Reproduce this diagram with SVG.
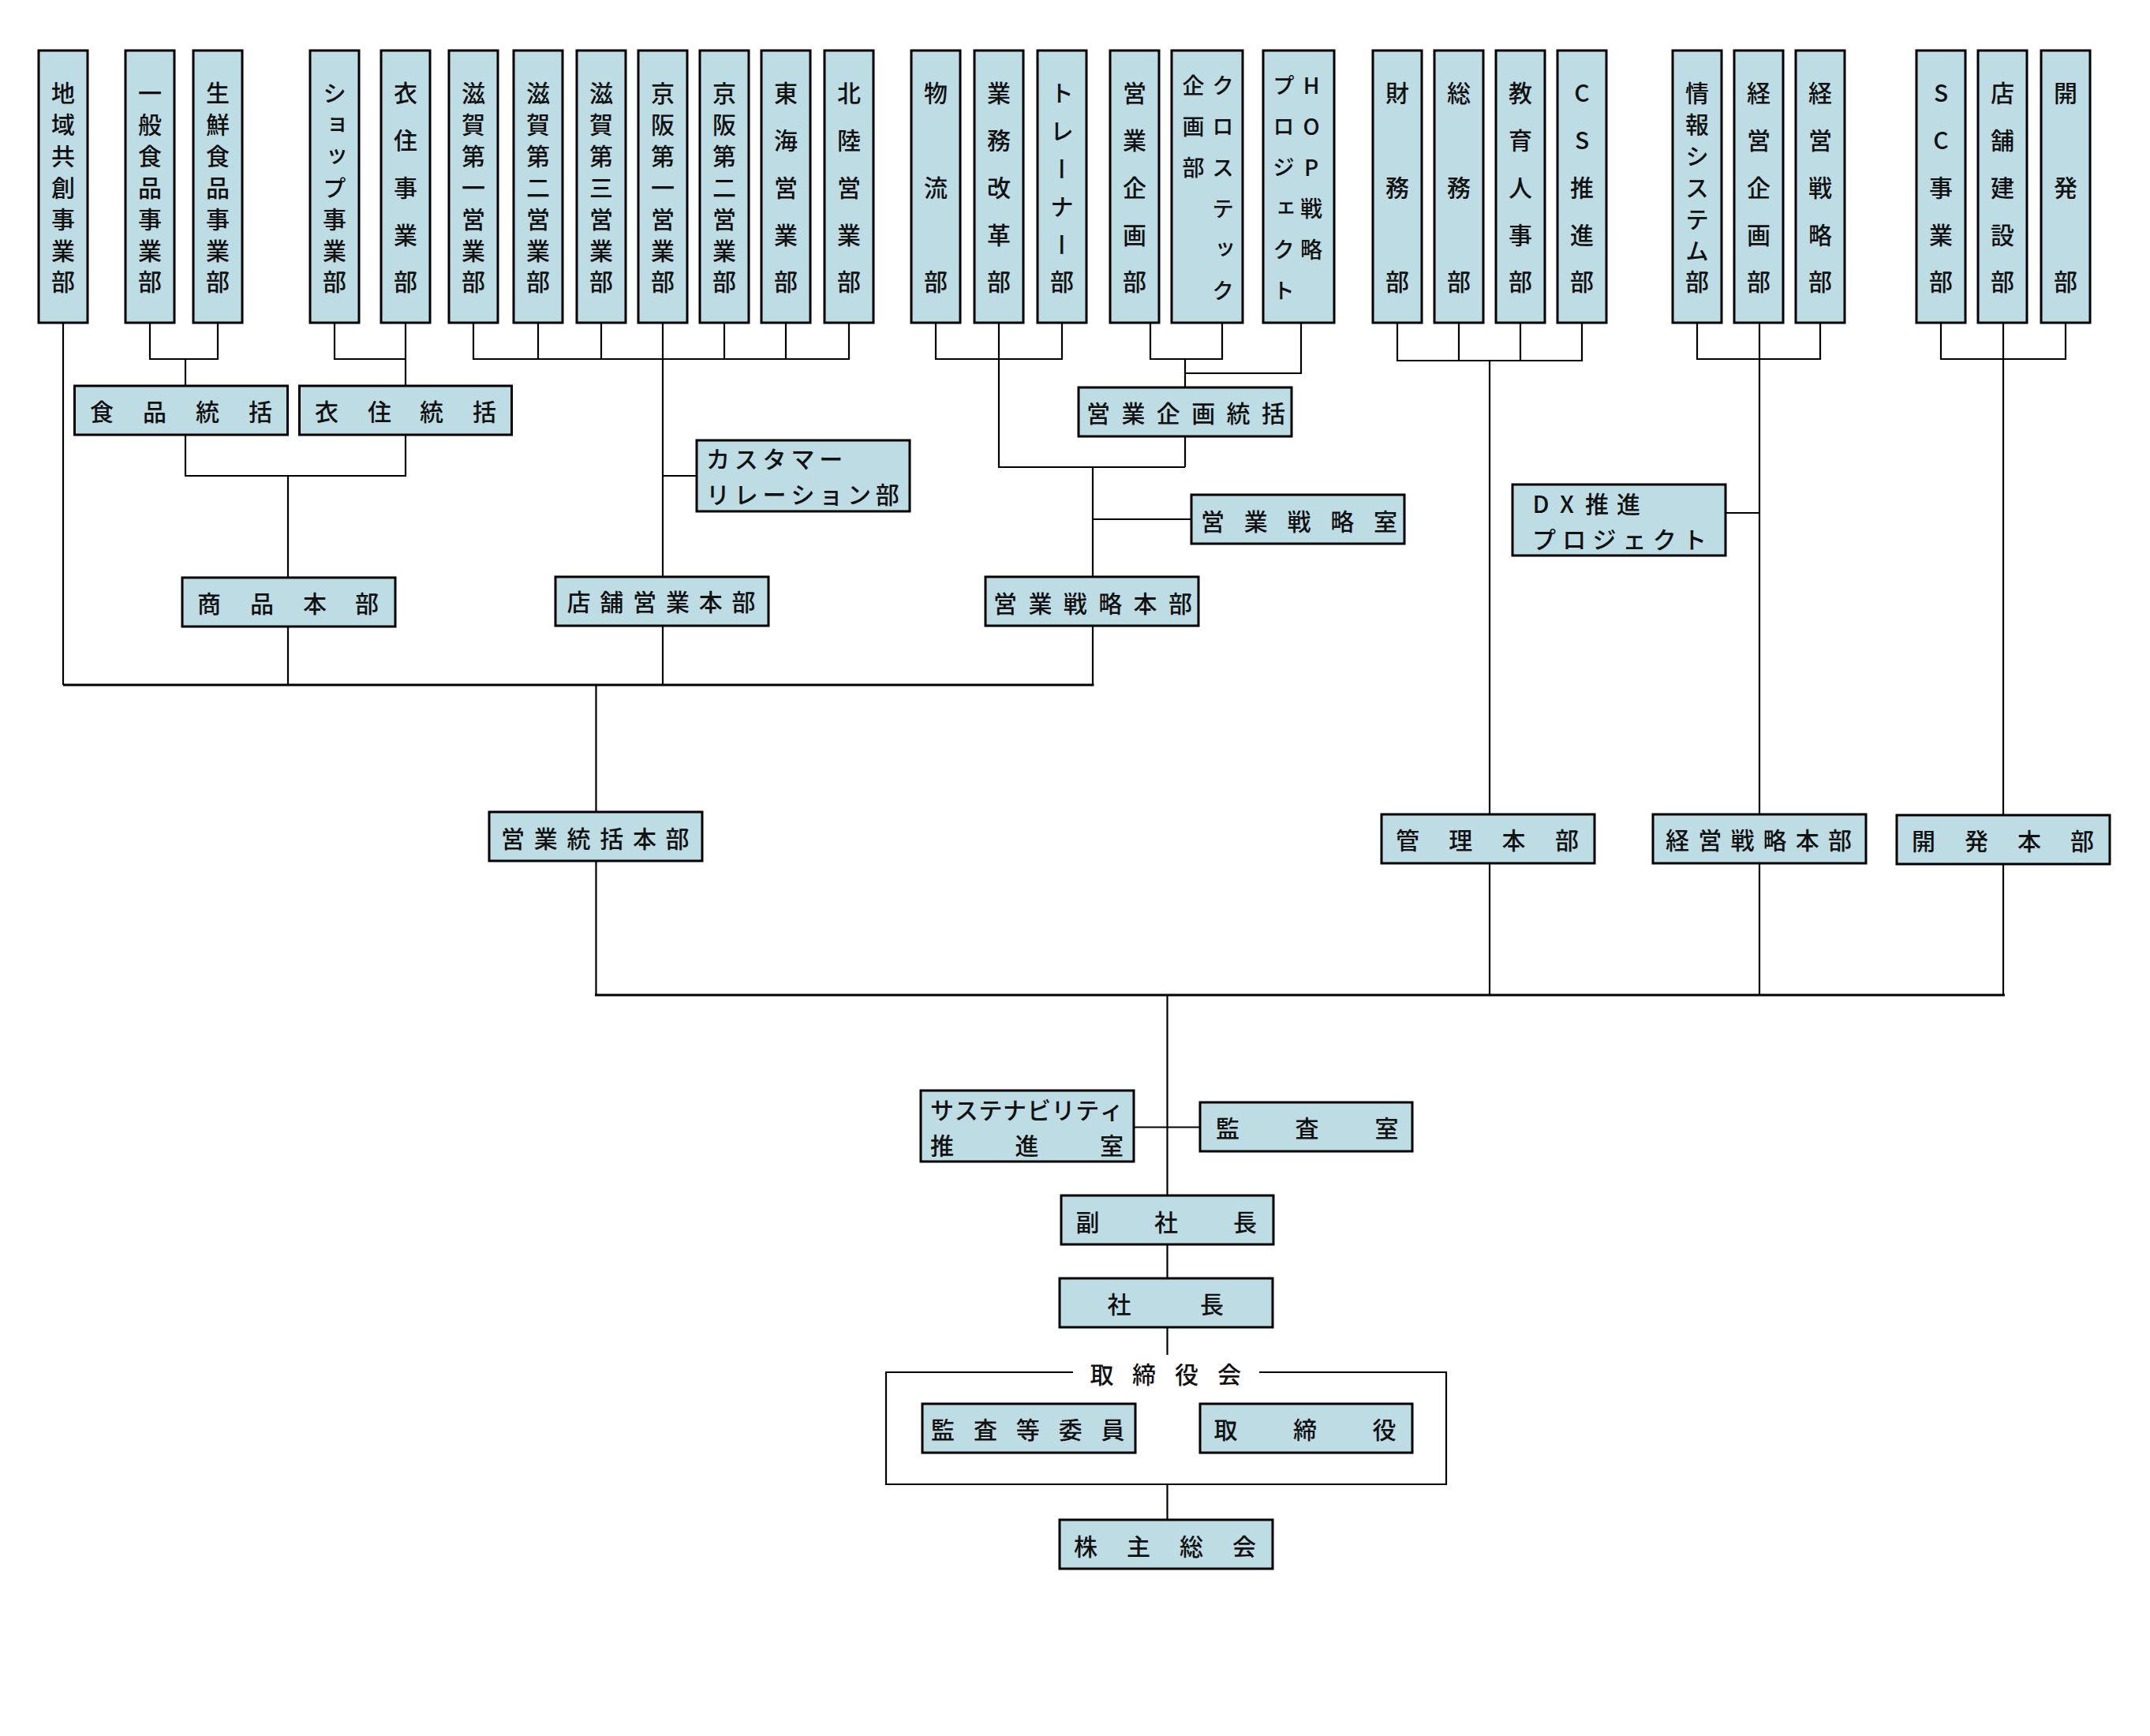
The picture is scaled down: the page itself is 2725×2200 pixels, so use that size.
<svg xmlns="http://www.w3.org/2000/svg" width="2725" height="2200" viewBox="0 0 2725 2200">
<style>
.b{fill:#bedce4;stroke:#000;stroke-width:3}
.l{fill:none;stroke:#000;stroke-width:2.2}
.lb{fill:none;stroke:#000;stroke-width:3}
text{font-family:"Noto Sans CJK JP","Noto Sans CJK SC",sans-serif;font-size:30px;font-weight:500;fill:#111;text-anchor:middle;dominant-baseline:central}
.v{writing-mode:vertical-rl;text-orientation:upright}
.s{font-size:28px}
</style>
<rect width="2725" height="2200" fill="#fff"/>
<g id="connectors">
<path class="l" d="M80 409V868"/>
<path class="l" d="M190 409V455H276V409M235 455V489"/>
<path class="l" d="M424 409V455H514M514 409V489"/>
<path class="l" d="M235 551V603H514V551M365 603V732M365 794V868"/>
<path class="l" d="M600 409V455H1076V409M682 409V455M762 409V455M918 409V455M996 409V455M840 409V731M840 603H883M840 793V868"/>
<path class="l" d="M1186 409V455H1346V409M1266 409V592H1502"/>
<path class="l" d="M1458 409V455H1549V409M1502 455V491M1649 409V473H1502"/>
<path class="l" d="M1502 553V592M1385 592V731M1385 658H1510M1385 793V868"/>
<path class="lb" d="M80 868H1386.5"/>
<path class="l" d="M755.5 868V1029M755.5 1091V1261"/>
<path class="lb" d="M754 1261H2541"/>
<path class="l" d="M1771 409V457H2005V409M1849 409V457M1927 409V457M1888 457V1032M1888 1094V1261"/>
<path class="l" d="M2151 409V455H2307V409M2230 409V1032M2187 650H2230M2230 1094V1261"/>
<path class="l" d="M2460 409V455H2618V409M2539 409V1033M2539 1095V1261"/>
<path class="l" d="M1479.5 1261V1515M1437 1428.5H1521M1479.5 1577V1620M1479.5 1682V1717"/>
<path class="l" d="M1360 1739H1123V1881H1833V1739H1596M1479.5 1881V1926"/>
</g>
<g id="n1"><rect class="b" x="49" y="64" width="62" height="345"/><text class="v" x="80" y="118 157.8 197.7 237.5 277.3 317.2 357">地域共創事業部</text></g>
<g id="n2"><rect class="b" x="159" y="64" width="62" height="345"/><text class="v" x="190" y="118 157.8 197.7 237.5 277.3 317.2 357">一般食品事業部</text></g>
<g id="n3"><rect class="b" x="245" y="64" width="62" height="345"/><text class="v" x="276" y="118 157.8 197.7 237.5 277.3 317.2 357">生鮮食品事業部</text></g>
<g id="n4"><rect class="b" x="393" y="64" width="62" height="345"/><text class="v" x="424" y="118 157.8 197.7 237.5 277.3 317.2 357">ショップ事業部</text></g>
<g id="n5"><rect class="b" x="483" y="64" width="62" height="345"/><text class="v" x="514" y="118 177.75 237.5 297.25 357">衣住事業部</text></g>
<g id="n6"><rect class="b" x="569" y="64" width="62" height="345"/><text class="v" x="600" y="118 157.8 197.7 237.5 277.3 317.2 357">滋賀第一営業部</text></g>
<g id="n7"><rect class="b" x="651" y="64" width="62" height="345"/><text class="v" x="682" y="118 157.8 197.7 237.5 277.3 317.2 357">滋賀第二営業部</text></g>
<g id="n8"><rect class="b" x="731" y="64" width="62" height="345"/><text class="v" x="762" y="118 157.8 197.7 237.5 277.3 317.2 357">滋賀第三営業部</text></g>
<g id="n9"><rect class="b" x="809" y="64" width="62" height="345"/><text class="v" x="840" y="118 157.8 197.7 237.5 277.3 317.2 357">京阪第一営業部</text></g>
<g id="n10"><rect class="b" x="887" y="64" width="62" height="345"/><text class="v" x="918" y="118 157.8 197.7 237.5 277.3 317.2 357">京阪第二営業部</text></g>
<g id="n11"><rect class="b" x="965" y="64" width="62" height="345"/><text class="v" x="996" y="118 177.75 237.5 297.25 357">東海営業部</text></g>
<g id="n12"><rect class="b" x="1045" y="64" width="62" height="345"/><text class="v" x="1076" y="118 177.75 237.5 297.25 357">北陸営業部</text></g>
<g id="n13"><rect class="b" x="1155" y="64" width="62" height="345"/><text class="v" x="1186" y="118 237.5 357">物流部</text></g>
<g id="n14"><rect class="b" x="1235" y="64" width="62" height="345"/><text class="v" x="1266" y="118 177.75 237.5 297.25 357">業務改革部</text></g>
<g id="n15"><rect class="b" x="1315" y="64" width="62" height="345"/><text class="v" x="1346" y="118 165.8 213.6 261.4 309.2 357">トレーナー部</text></g>
<g id="n16"><rect class="b" x="1407" y="64" width="62" height="345"/><text class="v" x="1438" y="118 177.75 237.5 297.25 357">営業企画部</text></g>
<g id="n17"><rect class="b" x="1485" y="64" width="90" height="345"/><text class="v s" x="1550" y="108 160 212 264 316 368">クロステック</text><text class="v s" x="1512.5" y="108 160 212">企画部</text></g>
<g id="n18"><rect class="b" x="1601" y="64" width="90" height="345"/><text class="v s" x="1662" y="108 160 212 264 316">HOP戦略</text><text class="v s" x="1627" y="108 160 212 264 316 368">プロジェクト</text></g>
<g id="n19"><rect class="b" x="1740" y="64" width="62" height="345"/><text class="v" x="1771" y="118 237.5 357">財務部</text></g>
<g id="n20"><rect class="b" x="1818" y="64" width="62" height="345"/><text class="v" x="1849" y="118 237.5 357">総務部</text></g>
<g id="n21"><rect class="b" x="1896" y="64" width="62" height="345"/><text class="v" x="1927" y="118 177.75 237.5 297.25 357">教育人事部</text></g>
<g id="n22"><rect class="b" x="1974" y="64" width="62" height="345"/><text class="v" x="2005" y="118 177.75 237.5 297.25 357">CS推進部</text></g>
<g id="n23"><rect class="b" x="2120" y="64" width="62" height="345"/><text class="v" x="2151" y="118 157.8 197.7 237.5 277.3 317.2 357">情報システム部</text></g>
<g id="n24"><rect class="b" x="2198" y="64" width="62" height="345"/><text class="v" x="2229" y="118 177.75 237.5 297.25 357">経営企画部</text></g>
<g id="n25"><rect class="b" x="2276" y="64" width="62" height="345"/><text class="v" x="2307" y="118 177.75 237.5 297.25 357">経営戦略部</text></g>
<g id="n26"><rect class="b" x="2429" y="64" width="62" height="345"/><text class="v" x="2460" y="118 177.75 237.5 297.25 357">SC事業部</text></g>
<g id="n27"><rect class="b" x="2507" y="64" width="62" height="345"/><text class="v" x="2538" y="118 177.75 237.5 297.25 357">店舗建設部</text></g>
<g id="n28"><rect class="b" x="2587" y="64" width="62" height="345"/><text class="v" x="2618" y="118 237.5 357">開発部</text></g>
<g id="shokuhin"><rect class="b" x="94.5" y="489" width="270" height="62"/><text x="129 196 263 330" y="520">食品統括</text></g>
<g id="iju"><rect class="b" x="379.5" y="489" width="269" height="62"/><text x="414 481 547 614" y="520">衣住統括</text></g>
<g id="shohin"><rect class="b" x="231" y="732" width="270" height="62"/><text x="265 332 399 465" y="763">商品本部</text></g>
<g id="tenpo"><rect class="b" x="704" y="731" width="270" height="62"/><text x="733.5 775.3 817.1 858.9 900.7 942.5" y="761">店舗営業本部</text></g>
<g id="customer"><rect class="b" x="883" y="558" width="270" height="90"/><text><tspan x="910 945.8 981.6 1017.4 1053.2" y="580">カスタマー</tspan><tspan x="910 945.8 981.6 1017.4 1053.2 1089 1124.8" y="625">リレーション部</tspan></text></g>
<g id="eigyokikaku"><rect class="b" x="1367" y="491" width="270" height="62"/><text x="1392 1436.4 1480.8 1525.2 1569.6 1614" y="522">営業企画統括</text></g>
<g id="senryakushitsu"><rect class="b" x="1510" y="627" width="270" height="62"/><text x="1537 1591.75 1646.5 1701.25 1756" y="659">営業戦略室</text></g>
<g id="senryakuhonbu"><rect class="b" x="1249" y="731" width="270" height="62"/><text x="1274 1318.4 1362.8 1407.2 1451.6 1496" y="762.5">営業戦略本部</text></g>
<g id="tokatsu"><rect class="b" x="620" y="1029" width="270" height="62"/><text x="650 691.7 733.4 775.2 816.9 858.6" y="1060.5">営業統括本部</text></g>
<g id="kanri"><rect class="b" x="1751" y="1032" width="270" height="62"/><text x="1784 1851.3 1918.6 1986" y="1063.3">管理本部</text></g>
<g id="keiei"><rect class="b" x="2095" y="1032" width="270" height="62"/><text x="2126 2167.2 2208.4 2249.6 2290.8 2332" y="1063">経営戦略本部</text></g>
<g id="kaihatsu"><rect class="b" x="2404" y="1033" width="270" height="62"/><text x="2438 2505 2572 2639" y="1064">開発本部</text></g>
<g id="dx"><rect class="b" x="1917" y="614" width="270" height="90"/><text><tspan x="1953 1986 2024 2064" y="637">DX推進</tspan><tspan x="1957 1995.2 2033.4 2071.6 2109.8 2148" y="681.5">プロジェクト</tspan></text></g>
<g id="sustain"><rect class="b" x="1167" y="1382" width="270" height="90"/><text><tspan x="1194 1224.7 1255.4 1286.1 1316.9 1347.6 1378.3 1409" y="1405">サステナビリティ</tspan><tspan x="1194 1301.5 1409" y="1450">推進室</tspan></text></g>
<g id="kansashitsu"><rect class="b" x="1521" y="1397" width="269" height="62"/><text x="1556 1656.6 1757.5" y="1428">監査室</text></g>
<g id="fukushacho"><rect class="b" x="1345" y="1515" width="269" height="62"/><text x="1378.5 1478 1578" y="1547">副社長</text></g>
<g id="shacho"><rect class="b" x="1343" y="1620" width="270" height="62"/><text x="1418.6 1536" y="1651">社長</text></g>
<g id="torishimariyakukai"><text x="1396.6 1450 1504 1558" y="1740">取締役会</text>
<g id="kansatou"><rect class="b" x="1169" y="1779" width="270" height="62"/><text x="1195 1248.9 1302.8 1356.7 1410.6" y="1810">監査等委員</text></g>
<g id="torishimariyaku"><rect class="b" x="1521" y="1779" width="269" height="62"/><text x="1553.6 1654 1754.6" y="1810">取締役</text></g>
</g>
<g id="kabunushi"><rect class="b" x="1343" y="1926" width="270" height="62"/><text x="1376 1443 1510 1577" y="1957.8">株主総会</text></g>
</svg>
